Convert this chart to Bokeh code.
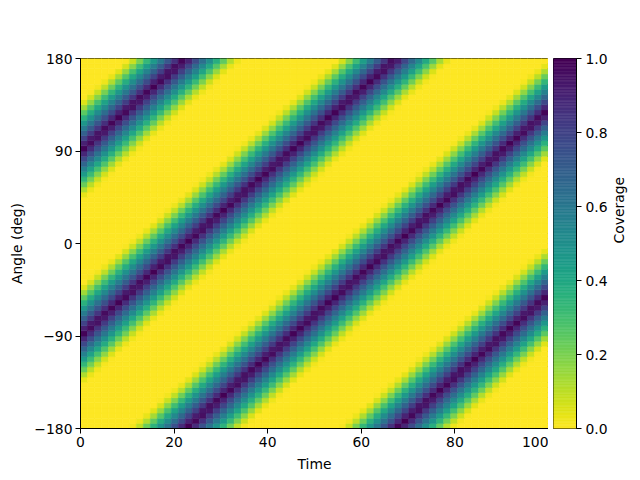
import numpy as np
from bokeh.plotting import figure
from bokeh.models import FixedTicker, PrintfTickFormatter
from bokeh.palettes import Viridis256
from bokeh.layouts import row
from bokeh.embed import file_html
from bokeh.resources import INLINE

# ---- data ----
time_range = [0, 100]
angle_range = [-180, 180]
n_time_cells = 67
n_angle_cells = 72
band_start_deg = [-90, 90]          # band centres at time 0
band_rate_deg_per_time = 4.0        # drift of the bands
profile_dist_deg = [0, 5, 10, 15, 20, 25, 30, 35, 40, 45, 50]
profile_coverage = [1.0, 0.9, 0.79, 0.68, 0.57, 0.46, 0.35, 0.24, 0.13, 0.04, 0.0]
x_ticks = [0, 20, 40, 60, 80, 100]
y_ticks = [-180, -90, 0, 90, 180]
cbar_ticks = [0.0, 0.2, 0.4, 0.6, 0.8, 1.0]
x_label = "Time"
y_label = "Angle (deg)"
cbar_label = "Coverage"

# ---- build the grid ----
t_edges = np.linspace(time_range[0], time_range[1], n_time_cells + 1)
a_edges = np.linspace(angle_range[0], angle_range[1], n_angle_cells + 1)
tc = (t_edges[:-1] + t_edges[1:]) / 2
ac = (a_edges[:-1] + a_edges[1:]) / 2
T, A = np.meshgrid(tc, ac)
cov = np.zeros_like(T)
for s in band_start_deg:
    c = s + band_rate_deg_per_time * T
    d = np.abs((A - c + 180) % 360 - 180)
    cov = np.maximum(cov, np.interp(d, profile_dist_deg, profile_coverage))

palette = list(reversed(Viridis256))


def to_color(v):
    i = int(np.clip(np.floor(v * 256), 0, 255))
    return palette[i]


L, B = np.meshgrid(t_edges[:-1], a_edges[:-1])
R, Tp = np.meshgrid(t_edges[1:], a_edges[1:])
colors = [to_color(v) for v in cov.ravel()]

FONT = "DejaVu Sans"
FS = "13.9px"

p = figure(frame_width=468, frame_height=370,
           x_range=(time_range[0], time_range[1]), y_range=(angle_range[0], angle_range[1]),
           output_backend="svg", toolbar_location=None,
           min_border_left=80, min_border_top=58, min_border_right=0, min_border_bottom=52)
p.quad(left=L.ravel(), right=R.ravel(), bottom=B.ravel(), top=Tp.ravel(),
       fill_color=colors, line_color=colors, line_width=0.6)

p.outline_line_color = "black"
p.outline_line_width = 1
p.grid.visible = False
p.background_fill_color = "white"
p.border_fill_color = "white"
for ax in (p.xaxis[0], p.yaxis[0]):
    ax.axis_line_color = "black"
    ax.major_tick_line_color = "black"
    ax.minor_tick_line_color = None
    ax.major_tick_out = 5
    ax.major_tick_in = 0
    ax.major_label_standoff = 3
    ax.major_label_text_font = FONT
    ax.major_label_text_font_size = FS
    ax.major_label_text_color = "black"
    ax.axis_label_text_font = FONT
    ax.axis_label_text_font_size = FS
    ax.axis_label_text_font_style = "normal"
    ax.axis_label_text_color = "black"
    ax.axis_label_standoff = 6
p.xaxis.ticker = FixedTicker(ticks=x_ticks)
p.yaxis.ticker = FixedTicker(ticks=y_ticks)
p.yaxis.major_label_overrides = {-180: "\u2212180", -90: "\u221290"}
p.xaxis.axis_label = x_label
p.yaxis.axis_label = y_label

# ---- colour bar as its own small figure ----
levels = np.linspace(0, 1, 257)
cb = figure(frame_width=23, frame_height=370, x_range=(0, 1), y_range=(0, 1),
            output_backend="svg", toolbar_location=None,
            x_axis_location=None, y_axis_location="right",
            min_border_left=5, min_border_top=58, min_border_bottom=52, min_border_right=0)
cb.quad(left=0, right=1, bottom=levels[:-1], top=levels[1:],
        fill_color=palette, line_color=palette, line_width=0.6)
cb.outline_line_color = "black"
cb.outline_line_width = 1
cb.grid.visible = False
ay = cb.yaxis[0]
ay.ticker = FixedTicker(ticks=cbar_ticks)
ay.formatter = PrintfTickFormatter(format="%.1f")
ay.axis_line_color = "black"
ay.major_tick_line_color = "black"
ay.minor_tick_line_color = None
ay.major_tick_out = 5
ay.major_tick_in = 0
ay.major_label_standoff = 4
ay.major_label_text_font = FONT
ay.major_label_text_font_size = FS
ay.major_label_text_color = "black"
ay.axis_label = cbar_label
ay.axis_label_orientation = np.pi / 2
ay.axis_label_text_font = FONT
ay.axis_label_text_font_size = FS
ay.axis_label_text_font_style = "normal"
ay.axis_label_text_color = "black"
ay.axis_label_standoff = 8

layout = row(p, cb)
open("out.html", "w").write(file_html(layout, INLINE))
